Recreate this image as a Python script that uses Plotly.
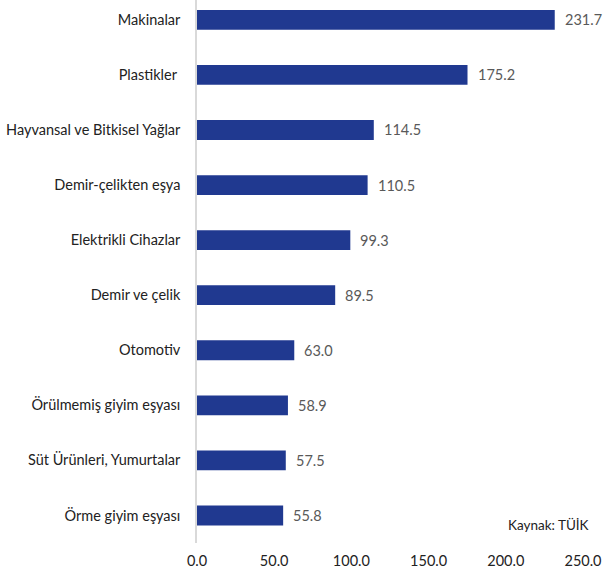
import plotly.graph_objects as go

categories = ["Makinalar", "Plastikler ", "Hayvansal ve Bitkisel Yağlar", "Demir-çelikten eşya",
              "Elektrikli Cihazlar", "Demir ve çelik", "Otomotiv", "Örülmemiş giyim eşyası",
              "Süt Ürünleri, Yumurtalar", "Örme giyim eşyası"]
values = [231.7, 175.2, 114.5, 110.5, 99.3, 89.5, 63.0, 58.9, 57.5, 55.8]
x_ticks = [0, 50, 100, 150, 200, 250]
x_tick_labels = ["0.0", "50.0", "100.0", "150.0", "200.0", "250.0"]

FONT = "Lato"
fig = go.Figure(go.Bar(
    x=values, y=categories, orientation="h",
    marker=dict(color="#203990", line=dict(width=0)),
    width=0.36,
))

for c, v in zip(categories, values):
    fig.add_annotation(x=v, y=c, text=f"{v:.1f}", showarrow=False, xanchor="left",
                       xshift=8, font=dict(family=FONT, size=14.5, color="#595959"))

fig.add_annotation(x=1, y=0, xref="paper", yref="paper", xanchor="right", yanchor="bottom",
                   text="Kaynak: TÜİK", showarrow=False, xshift=8, yshift=8,
                   font=dict(family=FONT, size=13.5, color="#222222"))

fig.update_layout(
    width=604, height=571,
    margin=dict(l=197, r=21, t=0, b=28),
    plot_bgcolor="white", paper_bgcolor="white",
    showlegend=False,
    font=dict(family=FONT, size=14.5, color="#222222"),
    xaxis=dict(range=[0, 250], tickvals=x_ticks, ticktext=x_tick_labels, showgrid=False,
               zeroline=False, showline=False, ticks="", ticklabelstandoff=7,
               tickfont=dict(size=14.5, color="#222222")),
    yaxis=dict(categoryorder="array", categoryarray=categories, range=[9.5, -0.36],
               showgrid=False, zeroline=False, showline=True, linecolor="#d9d9d9", linewidth=1.5,
               ticks="", ticklabelstandoff=12, tickfont=dict(size=14.5, color="#222222")),
)

fig.write_html("out.html", config={"displayModeBar": False},
               post_script="document.body.style.margin='0';document.body.style.overflow='hidden';")
